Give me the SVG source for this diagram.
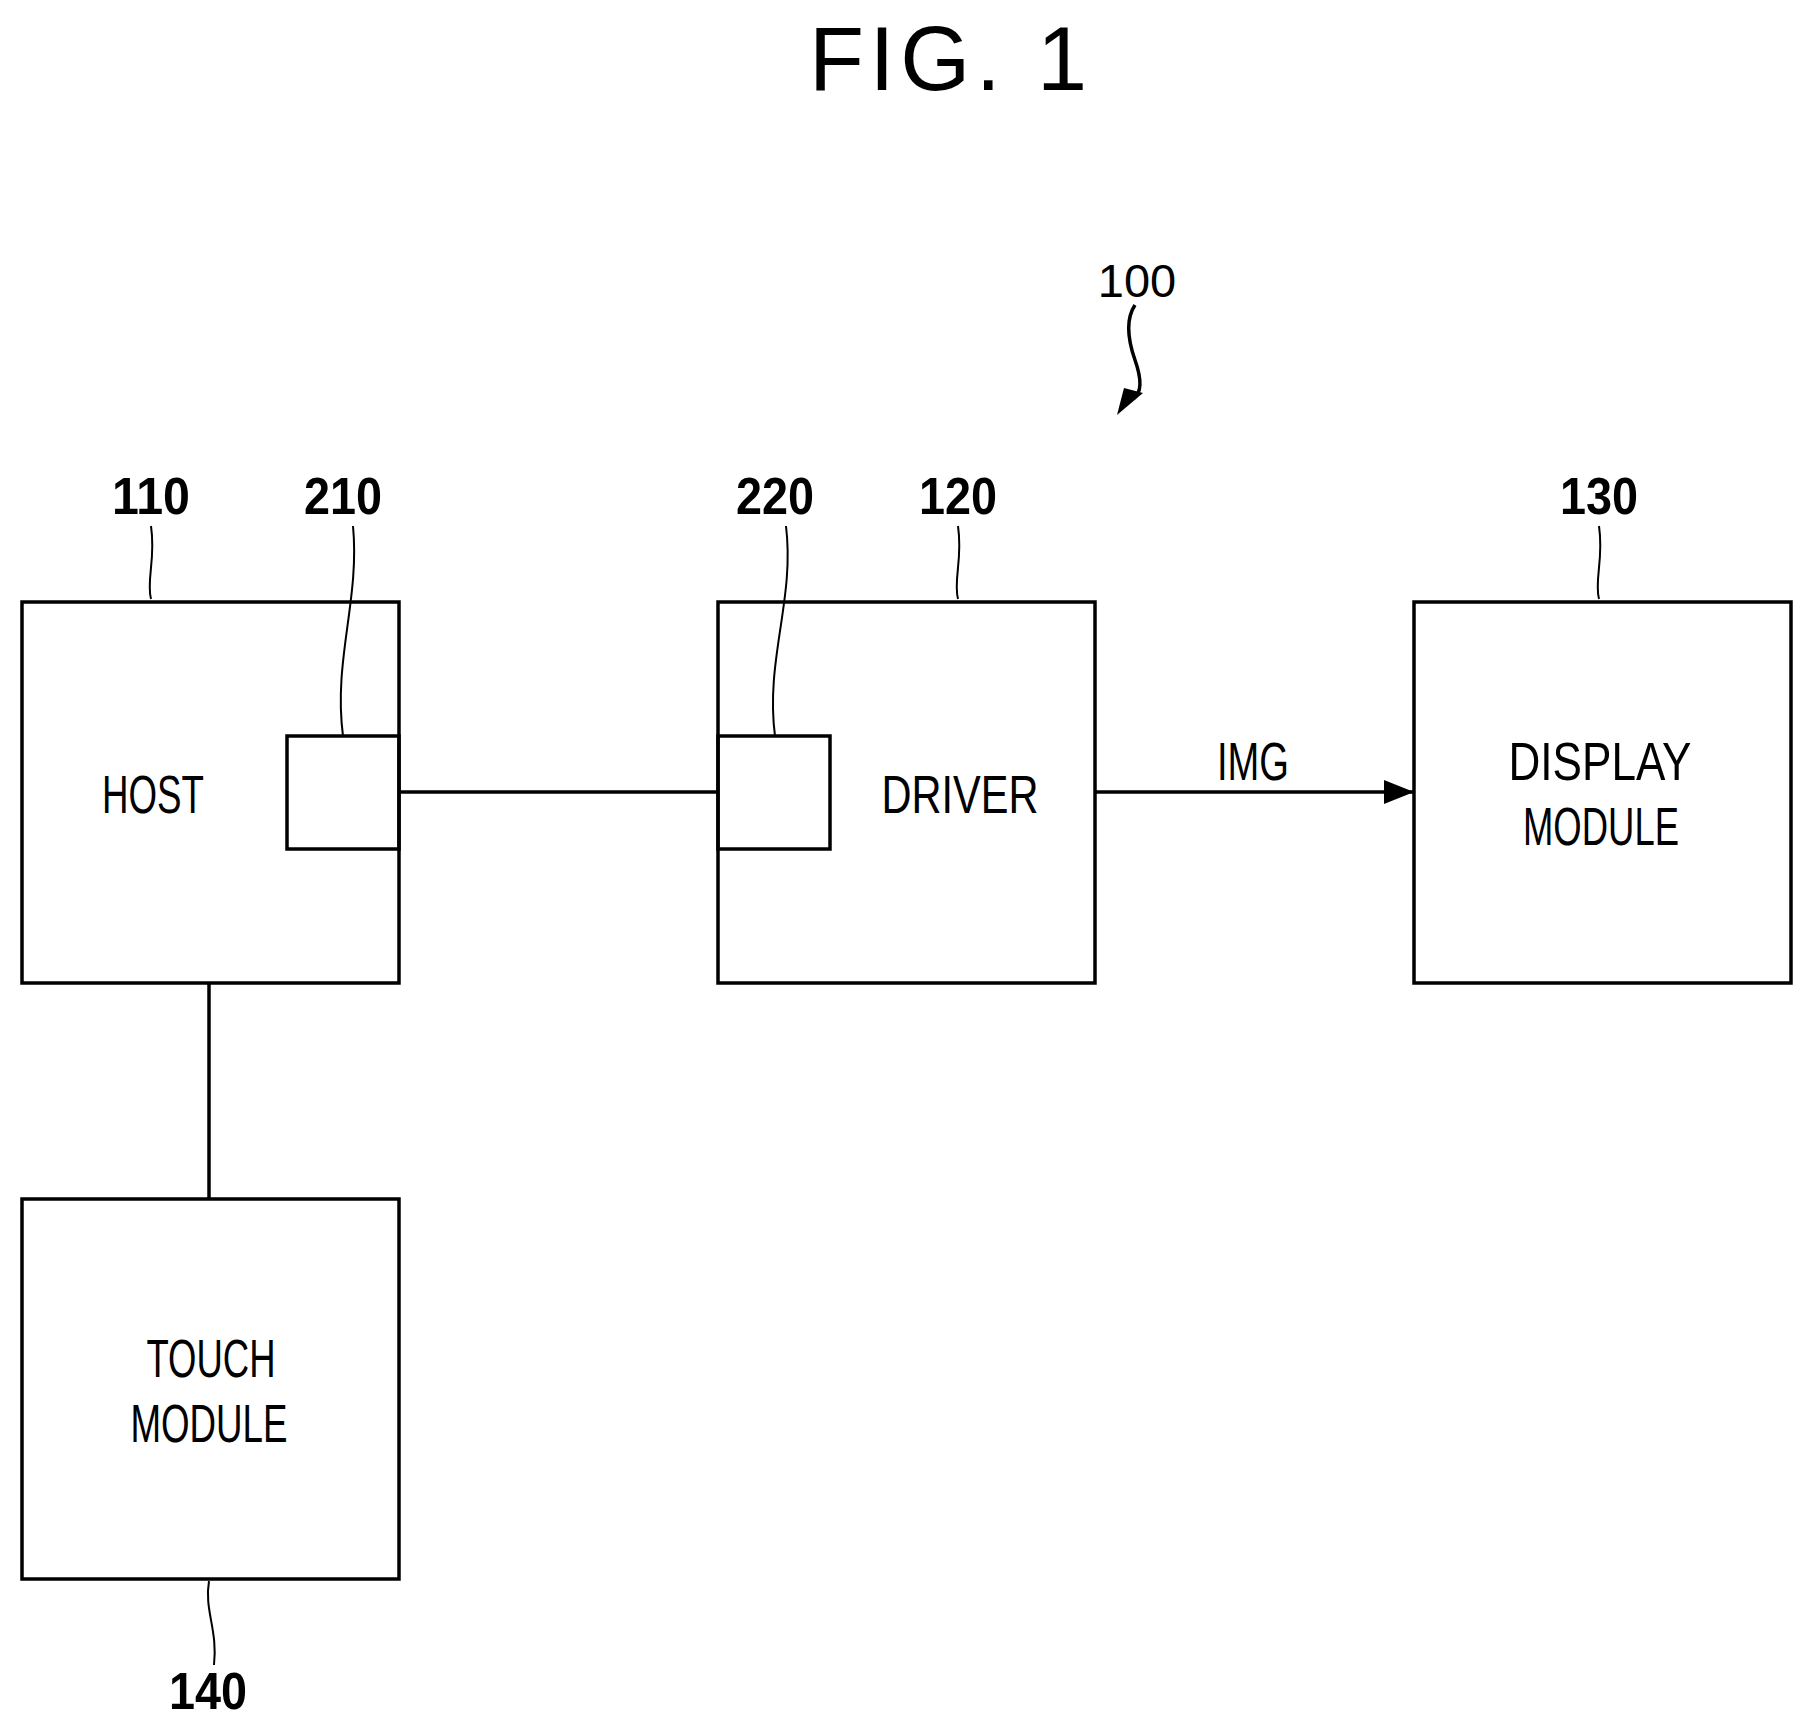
<svg xmlns="http://www.w3.org/2000/svg" width="1812" height="1728" viewBox="0 0 1812 1728">
<style>
.b{fill:none;stroke:#000;stroke-width:3.5}
.l{fill:none;stroke:#000;stroke-width:2}
.t{font-family:"Liberation Sans",sans-serif;font-size:54px;text-anchor:middle}
.n{font-family:"Liberation Sans",sans-serif;font-size:52px;font-weight:bold;text-anchor:middle}
</style>
<defs>
<marker id="h" viewBox="0 0 10 8" refX="10" refY="4" markerWidth="32" markerHeight="24" orient="auto" markerUnits="userSpaceOnUse"><path d="M0,0L10,4L0,8z"/></marker></defs>
<rect width="1812" height="1728" fill="#fff"/>
<text x="948" y="90" font-family="Liberation Sans,sans-serif" font-size="90" text-anchor="middle" textLength="278" lengthAdjust="spacing">FIG. 1</text>
<g id="n100"><text x="1137" y="297" font-family="Liberation Sans,sans-serif" font-size="47" text-anchor="middle">100</text>
<path class="l" d="M1135,305 C1125,320 1128,340 1135,360 C1142,380 1142,392 1134,398" style="stroke-width:3.5"/>
<path d="M1117,415 L1124,388 L1143,393 z"/></g>
<g id="host"><rect class="b" x="22" y="602" width="377" height="381"/><text class="t" x="153" y="813" textLength="102" lengthAdjust="spacingAndGlyphs">HOST</text>
<text class="n" x="151" y="514" textLength="78" lengthAdjust="spacingAndGlyphs">110</text><path class="l" d="M151,599 C146,580 156,560 151,526"/></g>
<g id="b210"><rect class="b" x="287" y="736" width="112" height="113"/><text class="n" x="343" y="514" textLength="78" lengthAdjust="spacingAndGlyphs">210</text><path class="l" d="M343,736 C333,660 360,600 353,526"/></g>
<g id="driver"><rect class="b" x="718" y="602" width="377" height="381"/><text class="t" x="960" y="813" textLength="157" lengthAdjust="spacingAndGlyphs">DRIVER</text>
<text class="n" x="958" y="514" textLength="78" lengthAdjust="spacingAndGlyphs">120</text><path class="l" d="M958,599 C953,580 963,560 958,526"/></g>
<g id="b220"><rect class="b" x="718" y="736" width="112" height="113"/><text class="n" x="775" y="514" textLength="78" lengthAdjust="spacingAndGlyphs">220</text><path class="l" d="M775,736 C765,660 795,600 786,526"/></g>
<g id="display"><rect class="b" x="1414" y="602" width="377" height="381"/><text class="t" x="1600" y="780" textLength="183" lengthAdjust="spacingAndGlyphs">DISPLAY</text><text class="t" x="1601" y="845" textLength="156" lengthAdjust="spacingAndGlyphs">MODULE</text>
<text class="n" x="1599" y="514" textLength="78" lengthAdjust="spacingAndGlyphs">130</text><path class="l" d="M1599,599 C1594,580 1604,560 1599,526"/></g>
<g id="touch"><rect class="b" x="22" y="1199" width="377" height="380"/><text class="t" x="211" y="1377" textLength="129" lengthAdjust="spacingAndGlyphs">TOUCH</text><text class="t" x="209" y="1442" textLength="157" lengthAdjust="spacingAndGlyphs">MODULE</text>
<text class="n" x="208" y="1709" textLength="78" lengthAdjust="spacingAndGlyphs">140</text><path class="l" d="M209,1581 C204,1610 218,1630 214,1665"/></g>
<g id="connectors">
<line class="b" x1="399" y1="792" x2="718" y2="792"/>
<line class="b" x1="1095" y1="792" x2="1414" y2="792" marker-end="url(#h)"/>
<text class="t" x="1253" y="780" textLength="72" lengthAdjust="spacingAndGlyphs">IMG</text>
<line class="b" x1="209" y1="983" x2="209" y2="1199"/>
</g>
</svg>
